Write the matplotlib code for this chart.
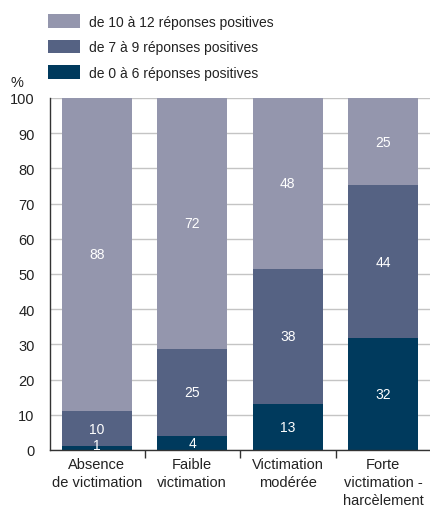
import matplotlib
matplotlib.use("Agg")
import matplotlib.pyplot as plt
from matplotlib import font_manager

fams = [f.name for f in font_manager.fontManager.ttflist]
base = "Liberation Sans Narrow" if "Liberation Sans Narrow" in fams else "Liberation Sans"
plt.rcParams['font.family'] = [base, 'DejaVu Sans']

categories = ["Absence\nde victimation", "Faible\nvictimation", "Victimation\nmodérée", "Forte\nvictimation -\nharcèlement"]
series_names = ["de 0 à 6 réponses positives", "de 7 à 9 réponses positives", "de 10 à 12 réponses positives"]
low = [1, 4, 13, 32]
mid = [10, 25, 38, 44]
high = [88, 72, 48, 25]
colors = ["#003a5d", "#556283", "#9496ad"]
yticks = [0, 10, 20, 30, 40, 50, 60, 70, 80, 90, 100]

# stacked to 100 %
totals = [a + b + c for a, b, c in zip(low, mid, high)]

fig = plt.figure(figsize=(4.31, 5.10), dpi=100)
ax = fig.add_axes([0.116, 0.1157, 0.884, 0.6903])

x = list(range(len(categories)))
bottoms = [0.0] * len(categories)
bars = []
for vals, col, name in zip([low, mid, high], colors, series_names):
    h = [v / t * 100 for v, t in zip(vals, totals)]
    b = ax.bar(x, h, width=0.73, bottom=bottoms, color=col, label=name, zorder=2)
    bars.append(b)
    for xi, v, hv, bt in zip(x, vals, h, bottoms):
        ax.text(xi, bt + max(hv / 2, 1.3), str(v), ha='center', va='center', color='white', fontsize=10, zorder=3)
    bottoms = [bt + hv for bt, hv in zip(bottoms, h)]

ax.set_ylim(0, 100)
ax.set_xlim(-0.49, 3.5)
ax.set_yticks(yticks)
ax.tick_params(axis='y', length=0, labelsize=10.5, pad=11, colors='#222222')
ax.yaxis.grid(True, color='#c4c4c4', lw=1, zorder=0)
ax.set_axisbelow(True)
ax.set_xticks(x)
ax.set_xticklabels(categories, fontsize=10.5, color='#222222', linespacing=1.38)
ax.tick_params(axis='x', length=0, pad=5)
ax.set_xticks([0.5, 1.5, 2.5], minor=True)
ax.tick_params(axis='x', which='minor', length=6, direction='out', color='#333333', width=1)
for s in ['top', 'right']:
    ax.spines[s].set_visible(False)
for s in ['left', 'bottom']:
    ax.spines[s].set_color('#333333')
    ax.spines[s].set_linewidth(1)

fig.text(0.024, 0.824, "%", fontsize=10.5, color='#222222', ha='left', va='bottom')

handles = [bars[2], bars[1], bars[0]]
labels = [series_names[2], series_names[1], series_names[0]]
fig.legend(handles, labels, loc='upper left', bbox_to_anchor=(0.112, 0.97), frameon=False,
           borderpad=0, borderaxespad=0,
           fontsize=10, handlelength=2.25, handleheight=1.1, handletextpad=0.7, labelspacing=0.8,
           labelcolor='#222222')

fig.savefig("out.png", dpi=100)
